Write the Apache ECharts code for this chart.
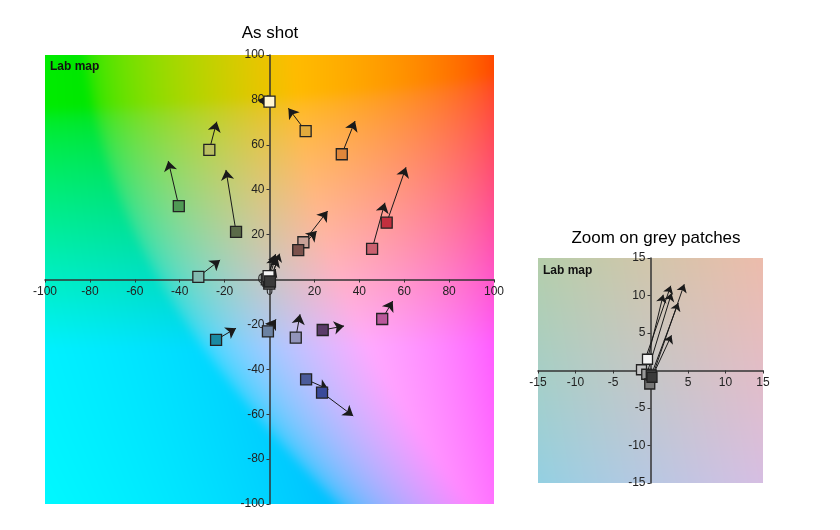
<!DOCTYPE html>
<html><head><meta charset="utf-8">
<script src="https://cdn.jsdelivr.net/npm/echarts@6/dist/echarts.min.js"></script>
<style>html,body{margin:0;padding:0;background:#fff}#c{width:840px;height:530px}</style>
</head><body><div id="c"></div>
<script>
// ---- Data (CIE Lab a*, b*) ----
// Colour patches: start point (as shot) and arrow tip
const patchStartA = [-26.8, -40.4, -14.9, -31.7, 0.0, 16.1, 32.2, 52.2, 45.7, 15.1, 12.8, 50.2, -0.7, 11.7, 23.7, 16.3, 23.4, -23.8];
const patchStartB = [57.7, 32.7, 21.2, 1.2, 79.2, 66.1, 55.8, 25.3, 13.6, 16.6, 13.1, -17.6, -23.1, -25.9, -22.5, -44.5, -50.4, -26.9];
const patchEndA   = [-23.5, -45.1, -19.4, -22.0, -5.1, 8.4, 38.1, 60.8, 51.4, 25.9, 21.0, 54.9, 2.9, 13.6, 33.2, 26.2, 37.3, -14.9];
const patchEndB   = [70.3, 52.8, 48.8, 8.7, 80.0, 76.3, 70.6, 50.0, 34.2, 30.5, 21.6, -9.6, -17.7, -15.5, -20.7, -48.9, -60.8, -21.7];
const patchColors = ['#b9bf62', '#4f9954', '#5b6b49', '#82bab0', '#fff6d2', '#e2aa3c', '#df873b', '#c2303f', '#c9606f', '#c7a197', '#7b524c', '#b9589a', '#6b82a2', '#9294ba', '#5b3b69', '#4b5b9b', '#3a4a9a', '#1a8aa2'];
// Grey patches
const greyStartA = [-1.2, -0.5, -0.1, 0.1, -0.4, 0.2];
const greyStartB = [0.1, -0.5, -1.8, -0.6, 1.5, -0.9];
const greyEndA   = [2.7, 2.8, 4.5, 3.7, 1.7, 2.8];
const greyEndB   = [11.3, 10.3, 11.5, 9.0, 10.1, 4.7];
const greyColors = ['#c4c4c4', '#9a9a9a', '#777777', '#5a5a5a', '#f4f4f4', '#3a3a3a'];
// Axes
const mainRange = [-100, 100], mainStep = 20;
const zoomRange = [-15, 15], zoomStep = 5;
const titles = ['As shot', 'Zoom on grey patches'];
const mapLabel = 'Lab map';

// ---- Lab background map ----
const LSTAR = 80;
function f2(t){ return t > 0.206897 ? t*t*t : (t - 16/116) / 7.787; }
function gam(c){ c = Math.max(0, Math.min(1, c)); return c <= 0.0031308 ? 12.92*c : 1.055*Math.pow(c, 1/2.4) - 0.055; }
function labToRgb(L, a, b){
  const fy = (L + 16) / 116, fx = fy + a/500, fz = fy - b/200;
  const X = 0.95047*f2(fx), Y = f2(fy), Z = 1.08883*f2(fz);
  const r = 3.2406*X - 1.5372*Y - 0.4986*Z;
  const g = -0.9689*X + 1.8758*Y + 0.0415*Z;
  const bb = 0.0557*X - 0.2040*Y + 1.0570*Z;
  return [gam(r)*255, gam(g)*255, gam(bb)*255];
}
function makeMap(lo, hi, size, blur){
  const m = blur * 3, full = size + 2*m;
  const cv = document.createElement('canvas'); cv.width = full; cv.height = full;
  const ctx = cv.getContext('2d'); const img = ctx.createImageData(full, full);
  const span = hi - lo;
  for (let j = 0; j < full; j++) for (let i = 0; i < full; i++){
    const a = lo + (i - m + 0.5)/size*span, b = hi - (j - m + 0.5)/size*span;
    const c = labToRgb(LSTAR, a, b); const k = (j*full + i)*4;
    img.data[k] = c[0]; img.data[k+1] = c[1]; img.data[k+2] = c[2]; img.data[k+3] = 255;
  }
  ctx.putImageData(img, 0, 0);
  const out = document.createElement('canvas'); out.width = size; out.height = size;
  const octx = out.getContext('2d');
  if (blur > 0) octx.filter = 'blur(' + blur + 'px)';
  octx.drawImage(cv, -m, -m);
  return out;
}
const mainMap = makeMap(mainRange[0], mainRange[1], 449, 5);
const zoomMap = makeMap(zoomRange[0], zoomRange[1], 225, 0);

const FONT = 'Arial, "Liberation Sans", sans-serif';
const gridMain = {left: 45, top: 55, width: 449, height: 449};
const gridZoom = {left: 538, top: 258, width: 225, height: 225};
function axis(range, step, isX, grid, idx){
  return {
    gridIndex: idx, type: 'value', min: range[0], max: range[1], interval: step,
    position: isX ? 'bottom' : 'left',
    offset: -(isX ? grid.height : grid.width) / 2,
    splitLine: {show: false},
    axisLine: {onZero: false, lineStyle: {color: '#333', width: 1.5}},
    axisTick: {show: true, length: 3, lineStyle: {color: '#333'}},
    axisLabel: {color: '#222', fontSize: 12, fontFamily: FONT, margin: isX ? 6 : 5}
  };
}
function bgSeries(idx, range, canvas){
  return {
    type: 'custom', xAxisIndex: idx, yAxisIndex: idx, z: -1, silent: true, clip: false,
    encode: {x: [0, 2], y: [1, 3]},
    data: [[range[0], range[1], range[1], range[0]]],
    renderItem: function(params, api){
      const p0 = api.coord([api.value(0), api.value(1)]);
      const p1 = api.coord([api.value(2), api.value(3)]);
      return {type: 'image', silent: true, style: {image: canvas, x: p0[0], y: p0[1], width: p1[0]-p0[0], height: p1[1]-p0[1]}};
    }
  };
}
function arrowSeries(idx, sa, sb, ea, eb, size){
  return {
    type: 'lines', coordinateSystem: 'cartesian2d', xAxisIndex: idx, yAxisIndex: idx, z: 3,
    symbol: ['none', 'arrow'], symbolSize: size, silent: true,
    lineStyle: {color: '#1a1a1a', width: 1, opacity: 1},
    data: sa.map((v, i) => ({coords: [[v, sb[i]], [ea[i], eb[i]]]}))
  };
}
function squareSeries(idx, sa, sb, colors, size){
  return {
    type: 'scatter', xAxisIndex: idx, yAxisIndex: idx, z: 4, symbol: 'rect', symbolSize: size, silent: true,
    data: sa.map((v, i) => ({value: [v, sb[i]], itemStyle: {color: colors[i]}})),
    itemStyle: {borderColor: '#222', borderWidth: 1.3, opacity: 1}
  };
}

const chart = echarts.init(document.getElementById('c'), null, {renderer: 'canvas'});
chart.setOption({
  backgroundColor: '#fff',
  animation: false,
  grid: [
    Object.assign({containLabel: false}, gridMain),
    Object.assign({containLabel: false}, gridZoom)
  ],
  xAxis: [axis(mainRange, mainStep, true, gridMain, 0), axis(zoomRange, zoomStep, true, gridZoom, 1)],
  yAxis: [axis(mainRange, mainStep, false, gridMain, 0), axis(zoomRange, zoomStep, false, gridZoom, 1)],
  graphic: [
    {type: 'text', x: 270, y: 33, style: {text: titles[0], font: '17px ' + FONT, fill: '#000', align: 'center', verticalAlign: 'middle'}},
    {type: 'text', x: 656, y: 238, style: {text: titles[1], font: '17px ' + FONT, fill: '#000', align: 'center', verticalAlign: 'middle'}},
    {type: 'text', x: 50, y: 67, z: 10, style: {text: mapLabel, font: 'bold 12px ' + FONT, fill: '#111', align: 'left', verticalAlign: 'middle'}},
    {type: 'text', x: 543, y: 271, z: 10, style: {text: mapLabel, font: 'bold 12px ' + FONT, fill: '#111', align: 'left', verticalAlign: 'middle'}}
  ],
  series: [
    bgSeries(0, mainRange, mainMap),
    bgSeries(1, zoomRange, zoomMap),
    arrowSeries(0, patchStartA, patchStartB, patchEndA, patchEndB, 10),
    arrowSeries(0, greyStartA, greyStartB, greyEndA, greyEndB, 8),
    squareSeries(0, patchStartA, patchStartB, patchColors, 11),
    squareSeries(0, greyStartA, greyStartB, greyColors, 11),
    arrowSeries(1, greyStartA, greyStartB, greyEndA, greyEndB, 8),
    squareSeries(1, greyStartA, greyStartB, greyColors, 10)
  ]
});
</script></body></html>
